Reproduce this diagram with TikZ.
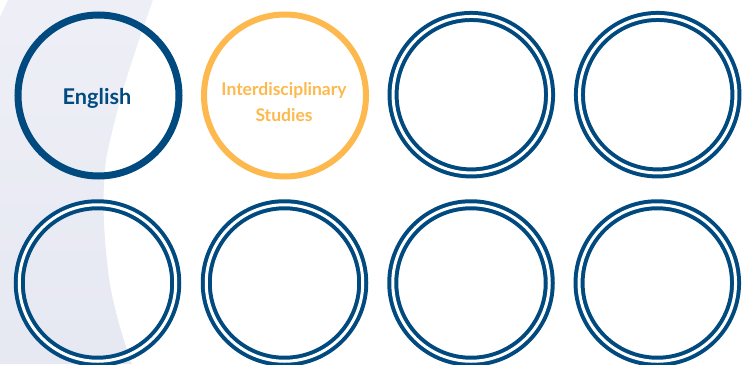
\documentclass[tikz,border=0pt]{standalone}
\usepackage{fontspec}
\setmainfont{Lato}
\definecolor{navy}{RGB}{0,74,128}
\definecolor{gold}{RGB}{253,185,77}
\definecolor{lavtop}{RGB}{238,239,246}
\definecolor{lavbot}{RGB}{230,232,242}
\tikzset{
  ringsolid/.style={circle, draw=navy, line width=7pt, minimum size=161pt, inner sep=0pt, outer sep=0pt},
  ringgold/.style={circle, draw=gold, line width=6pt, minimum size=162pt, inner sep=0pt, outer sep=0pt},
  ringdouble/.style={circle, draw=navy, line width=4pt, double=white, double distance=3pt, minimum size=156.5pt, inner sep=0pt, outer sep=0pt},
  lbl/.style={font=\bfseries\fontsize{17.5}{20}\selectfont, inner sep=0pt, anchor=base}
}
\begin{document}
\begin{tikzpicture}[x=1pt,y=-1pt]
\useasboundingbox (0,0) rectangle (744,364);
\fill[white] (0,0) rectangle (744,364);
% background band
\shade[top color=lavtop, bottom color=lavbot]
  (8,0) -- (153,0) -- plot[smooth] coordinates {(153,0) (139,40) (126,80) (115,120) (106,160) (103.5,200) (105,240) (110,285) (118,320) (127,350) (132,364)}
  -- (0,364) -- (0,17) -- cycle;
% top row
\node[ringsolid] (c1) at (98.5,95.5) {};
\node[ringgold] (c2) at (285,95.5) {};
\node[ringdouble] (c3) at (471.3,94.7) {};
\node[ringdouble] (c4) at (657.7,94.7) {};
% bottom row
\node[ringdouble] (c5) at (97.5,283) {};
\node[ringdouble] (c6) at (284.5,283) {};
\node[ringdouble] (c7) at (471,283) {};
\node[ringdouble] (c8) at (657.3,283) {};
% labels
\node[lbl, text=navy, font=\bfseries\fontsize{21.7}{24}\selectfont] (t1) at (97,104) {English};
\node[lbl, text=gold] (t2a) at (284,95) {Interdisciplinary};
\node[lbl, text=gold] (t2b) at (284,121) {Studies};
\end{tikzpicture}
\end{document}
